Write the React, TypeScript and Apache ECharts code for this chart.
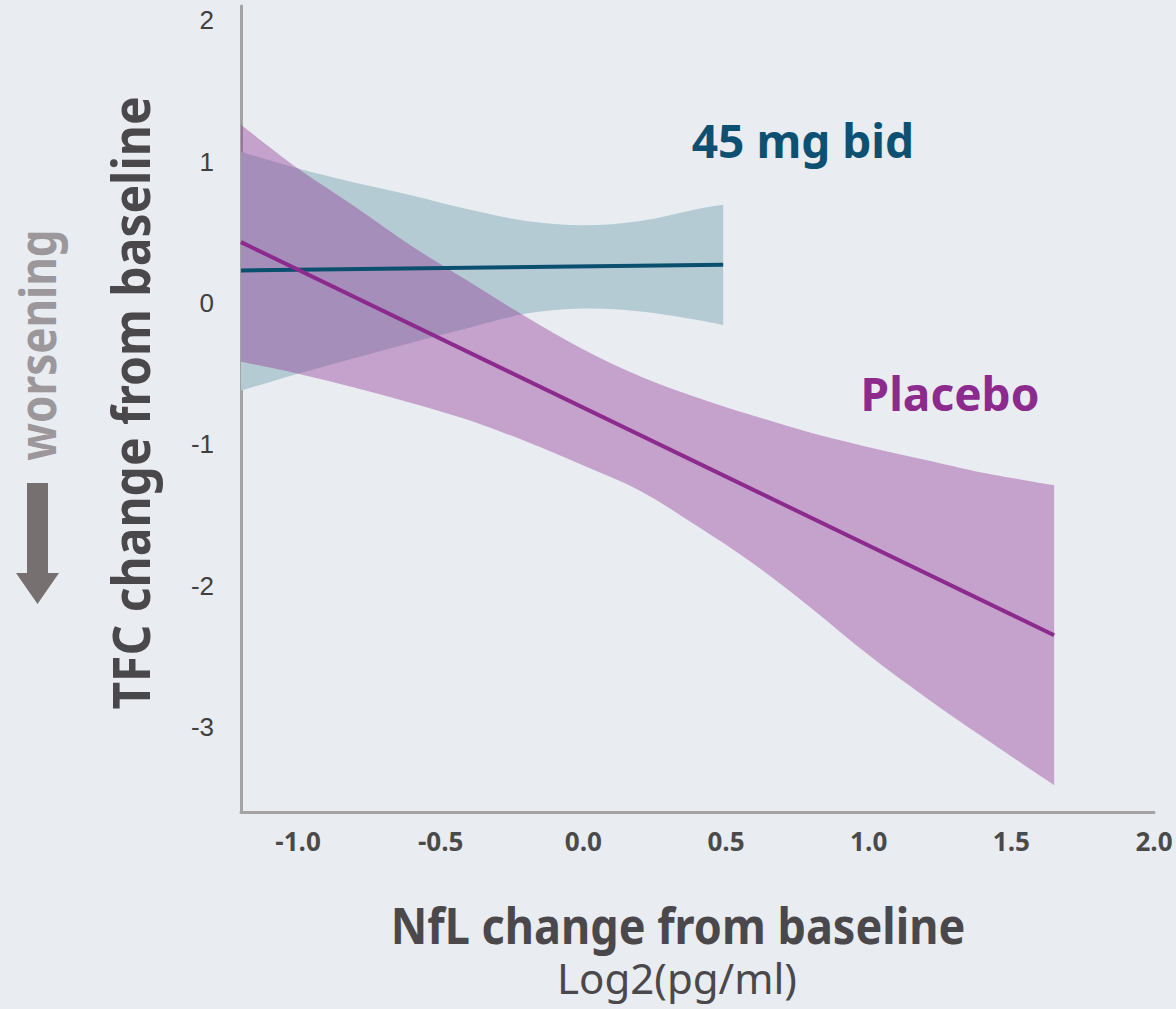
import React, { useEffect, useRef } from "react";
import * as echarts from "echarts";

// 45 mg bid: confidence band and fitted line
const tealX = [-1.2, -1.0, -0.8, -0.6, -0.4, -0.2, 0.0, 0.2, 0.4, 0.49];
const tealUpper = [1.07, 0.95, 0.85, 0.76, 0.66, 0.58, 0.55, 0.58, 0.665, 0.695];
const tealLower = [-0.62, -0.5, -0.39, -0.28, -0.175, -0.075, -0.04, -0.06, -0.12, -0.156];
const tealFitX = [-1.2, 0.49];
const tealFitY = [0.23, 0.27];

// Placebo: confidence band and fitted line
const placeboX = [-1.2, -1.0, -0.8, -0.6, -0.4, -0.2, 0.0, 0.2, 0.4, 0.6, 0.8, 1.0, 1.2, 1.4, 1.65];
const placeboUpper = [1.26, 0.95, 0.68, 0.4, 0.15, -0.1, -0.33, -0.52, -0.67, -0.8, -0.92, -1.02, -1.11, -1.2, -1.29];
const placeboLower = [-0.415, -0.5, -0.6, -0.71, -0.83, -0.98, -1.15, -1.33, -1.58, -1.85, -2.16, -2.49, -2.79, -3.07, -3.41];
const placeboFitX = [-1.2, 1.65];
const placeboFitY = [0.43, -2.35];

const yTicks = [-3, -2, -1, 0, 1, 2];
const xTicks = [-1.0, -0.5, 0, 0.5, 1.0, 1.5, 2.0];

const zip = (xs: number[], ys: number[]) => xs.map((x, i) => [x, ys[i]]);

const TITLE_FONT = '"Noto Sans", "Open Sans", sans-serif';

// Smooth curve through pixel points (Catmull-Rom as cubic Béziers), continuing an open path.
function curveThrough(ctx: any, pts: number[][]) {
  for (let i = 0; i < pts.length - 1; i++) {
    const p0 = pts[Math.max(i - 1, 0)];
    const p1 = pts[i];
    const p2 = pts[i + 1];
    const p3 = pts[Math.min(i + 2, pts.length - 1)];
    ctx.bezierCurveTo(
      p1[0] + (p2[0] - p0[0]) / 6,
      p1[1] + (p2[1] - p0[1]) / 6,
      p2[0] - (p3[0] - p1[0]) / 6,
      p2[1] - (p3[1] - p1[1]) / 6,
      p2[0],
      p2[1]
    );
  }
}

// Closed band: smooth top edge, straight vertical end, smooth bottom edge back, straight start.
const BandShape = echarts.graphic.extendShape({
  shape: { top: [] as number[][], bottom: [] as number[][] },
  buildPath(ctx: any, shape: any) {
    const top: number[][] = shape.top;
    const bottom: number[][] = shape.bottom.slice().reverse();
    if (!top.length) return;
    ctx.moveTo(top[0][0], top[0][1]);
    curveThrough(ctx, top);
    ctx.lineTo(bottom[0][0], bottom[0][1]);
    curveThrough(ctx, bottom);
    ctx.closePath();
  },
});
echarts.graphic.registerShape("ciBand", BandShape);

function bandSeries(name: string, xs: number[], upper: number[], lower: number[], color: string) {
  return {
    type: "custom",
    name,
    silent: true,
    data: zip(xs, upper),
    encode: { x: 0, y: 1 },
    renderItem: (params: any, api: any) => {
      if (params.dataIndex !== 0) return null;
      return {
        type: "ciBand",
        shape: {
          top: xs.map((x, i) => api.coord([x, upper[i]])),
          bottom: xs.map((x, i) => api.coord([x, lower[i]])),
        },
        style: { fill: color },
      };
    },
  };
}

function fitSeries(name: string, xs: number[], ys: number[], color: string) {
  return {
    type: "line",
    name,
    data: zip(xs, ys),
    symbol: "none",
    silent: true,
    lineStyle: { color, width: 4, cap: "butt" },
  };
}

const centered = {
  align: "center",
  verticalAlign: "middle",
  textAlign: "center",
  textVerticalAlign: "middle",
};

export default function App() {
  const ref = useRef<HTMLDivElement>(null);

  useEffect(() => {
    if (!ref.current) return;
    const chart = echarts.init(ref.current, undefined, { renderer: "svg" });
    chart.setOption({
      animation: false,
      backgroundColor: "#e9ecf1",
      grid: { left: 241, top: 6, right: 22, bottom: 197, containLabel: false },
      xAxis: {
        type: "value",
        min: -1.2,
        max: 2.0,
        splitLine: { show: false },
        axisTick: { show: false },
        axisLine: { show: true, onZero: false, lineStyle: { color: "#a3a3a3", width: 3 } },
        axisLabel: {
          customValues: xTicks,
          formatter: (v: number) => v.toFixed(1),
          margin: 16,
          fontFamily: '"Open Sans", sans-serif',
          fontWeight: "bold",
          fontSize: 26,
          color: "#4a4a4a",
        },
      },
      yAxis: {
        type: "value",
        min: -3.6,
        max: 2.1,
        splitLine: { show: false },
        axisTick: { show: false },
        axisLine: { show: true, onZero: false, lineStyle: { color: "#a3a3a3", width: 3 } },
        axisLabel: {
          customValues: yTicks,
          formatter: (v: number) => String(v),
          margin: 27,
          fontFamily: '"Liberation Sans", Arial, sans-serif',
          fontSize: 26,
          color: "#404040",
        },
      },
      series: [
        bandSeries("45 mg bid band", tealX, tealUpper, tealLower, "#b5cbd4"),
        fitSeries("45 mg bid", tealFitX, tealFitY, "#0b4f6e"),
        bandSeries("Placebo band", placeboX, placeboUpper, placeboLower, "rgba(139,42,143,0.38)"),
        fitSeries("Placebo", placeboFitX, placeboFitY, "#8c2a8e"),
      ],
      graphic: [
        {
          type: "text",
          x: 803,
          y: 140,
          style: { text: "45 mg bid", font: `bold 46px ${TITLE_FONT}`, fill: "#0d5071", ...centered },
        },
        {
          type: "text",
          x: 950,
          y: 393,
          style: { text: "Placebo", font: `bold 46px ${TITLE_FONT}`, fill: "#8c2a8e", ...centered },
        },
        {
          type: "text",
          x: 130,
          y: 403,
          rotation: Math.PI / 2,
          scaleY: 1.1,
          style: { text: "TFC change from baseline", font: `bold 48px ${TITLE_FONT}`, fill: "#4b484b", ...centered },
        },
        {
          type: "text",
          x: 36,
          y: 345,
          rotation: Math.PI / 2,
          scaleY: 1.15,
          style: { text: "worsening", font: `bold 44px ${TITLE_FONT}`, fill: "#9b979b", ...centered },
        },
        {
          type: "polygon",
          shape: {
            points: [
              [27, 483],
              [48, 483],
              [48, 573],
              [59, 573],
              [37.5, 604],
              [16, 573],
              [27, 573],
            ],
          },
          style: { fill: "#767170" },
        },
        {
          type: "text",
          x: 678,
          y: 924,
          scaleY: 1.12,
          style: { text: "NfL change from baseline", font: `bold 45px ${TITLE_FONT}`, fill: "#4b484b", ...centered },
        },
        {
          type: "text",
          x: 677,
          y: 977,
          style: { text: "Log2(pg/ml)", font: `42px ${TITLE_FONT}`, fill: "#4b484b", ...centered },
        },
      ],
    });
    return () => chart.dispose();
  }, []);

  return (
    <div
      ref={ref}
      style={{ position: "fixed", left: 0, top: 0, width: 1176, height: 1009 }}
    />
  );
}
